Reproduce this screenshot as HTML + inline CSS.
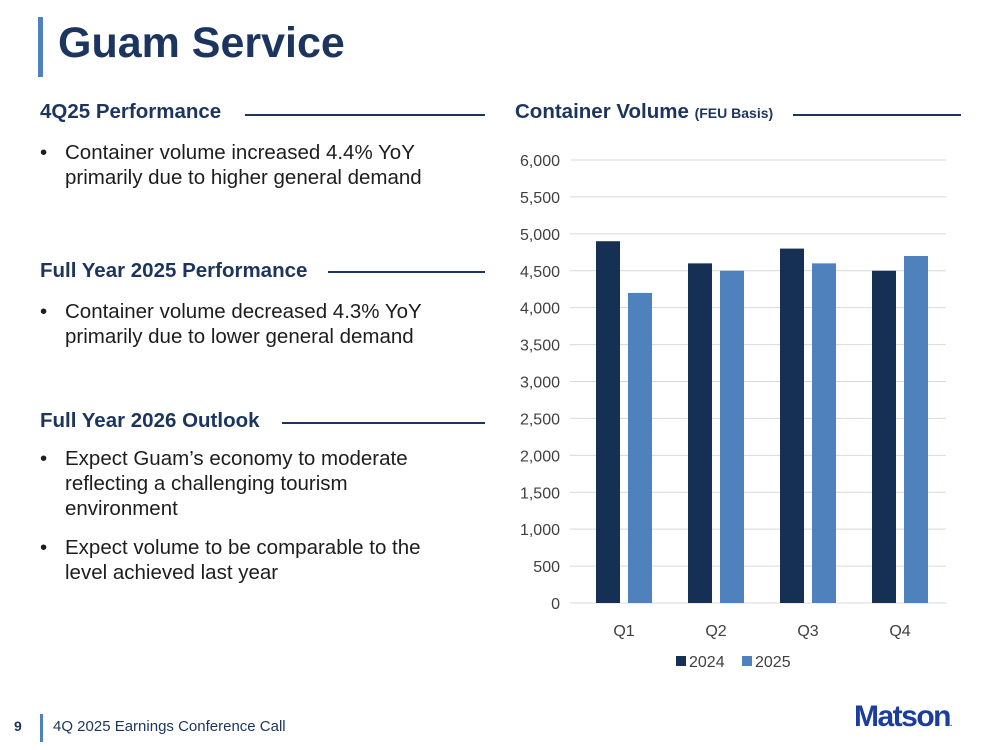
<!DOCTYPE html>
<html><head><meta charset="utf-8"><style>
body{margin:0;width:999px;height:750px;background:#fff;font-family:"Liberation Sans",sans-serif;position:relative;overflow:hidden;color:#1d1d1d}
.abs{position:absolute}
.h{color:#1c355e;font-weight:bold;font-size:20.5px}
.line{position:absolute;height:2px;background:#1c355e}
.b{font-size:20.5px;line-height:25px;position:absolute;left:40px;padding-left:25px;white-space:nowrap}
.b:before{content:"•";position:absolute;left:0}
</style></head><body>
<div class="abs" style="left:38px;top:17px;width:5px;height:60px;background:#4f81bd"></div>
<div class="abs" style="left:58px;top:19px;font-size:43px;font-weight:bold;color:#1c355e">Guam Service</div>

<div class="abs h" style="left:40px;top:100px">4Q25 Performance</div>
<div class="line" style="left:245px;top:114px;width:240px"></div>
<div class="b" style="top:140px">Container volume increased 4.4% YoY<br>primarily due to higher general demand</div>

<div class="abs h" style="left:40px;top:259px">Full Year 2025 Performance</div>
<div class="line" style="left:328px;top:271px;width:157px"></div>
<div class="b" style="top:299px">Container volume decreased 4.3% YoY<br>primarily due to lower general demand</div>

<div class="abs h" style="left:40px;top:409px">Full Year 2026 Outlook</div>
<div class="line" style="left:282px;top:422px;width:203px"></div>
<div class="b" style="top:446px">Expect Guam’s economy to moderate<br>reflecting a challenging tourism<br>environment</div>
<div class="b" style="top:535px">Expect volume to be comparable to the<br>level achieved last year</div>

<div class="abs h" style="left:515px;top:100px">Container Volume <span style="font-size:14px">(FEU Basis)</span></div>
<div class="line" style="left:793px;top:114px;width:168px"></div>

<svg class="abs" style="left:0;top:0" width="999" height="750" id="chart"></svg>

<div class="abs" style="left:14px;top:718px;font-size:14px;font-weight:bold;color:#1c355e">9</div>
<div class="abs" style="left:40px;top:714px;width:3px;height:28px;background:#4f81bd"></div>
<div class="abs" style="left:53px;top:718px;font-size:15px;color:#1c355e">4Q 2025 Earnings Conference Call</div>
<div class="abs" style="left:854px;top:700px;font-size:30px;font-weight:bold;color:#1a3d9e;letter-spacing:-1.5px">Matson<span style="font-size:8px">.</span></div>

<script>
const categories=["Q1","Q2","Q3","Q4"];
const series2024=[4900,4600,4800,4500];
const series2025=[4200,4500,4600,4700];
const yTicks=[0,500,1000,1500,2000,2500,3000,3500,4000,4500,5000,5500,6000];
const svg=document.getElementById('chart');
const NS="http://www.w3.org/2000/svg";
const y0=603,y1=160,xL=578,xR=946,yMax=6000,gL=570;
const y=v=>y0-(y0-y1)*v/yMax;
const cw=(xR-xL)/categories.length;
const x=i=>xL+cw*(i+0.5);
function mk(t,a){const e=document.createElementNS(NS,t);for(const k in a)e.setAttribute(k,a[k]);svg.appendChild(e);return e;}
yTicks.forEach(v=>{
 const l=mk('line',{x1:gL,x2:xR,y1:y(v),y2:y(v),stroke:'#d9d9d9','stroke-width':1});
 
 
 const t=mk('text',{x:560,y:y(v)+6,'text-anchor':'end','font-size':16,fill:'#404040','font-family':'Liberation Sans'});
 t.textContent=v.toLocaleString('en-US');
 
 
});
categories.forEach((c,i)=>{
 const bw=24,gap=8;
 const r1=mk('rect',{x:x(i)-gap/2-bw,y:y(series2024[i]),width:bw,height:y0-y(series2024[i]),fill:'#152f55'});
 
 
 const r2=mk('rect',{x:x(i)+gap/2,y:y(series2025[i]),width:bw,height:y0-y(series2025[i]),fill:'#4f81bd'});
 
 
 const t=mk('text',{x:x(i),y:636,'text-anchor':'middle','font-size':16,fill:'#404040','font-family':'Liberation Sans'});
 t.textContent=c;
 
 
});
[["2024","#152f55",676],["2025","#4f81bd",742]].forEach(([n,col,lx])=>{
 const r=mk('rect',{x:lx,y:656,width:10,height:10,fill:col});
 
 
 const t=mk('text',{x:lx+13,y:667,'font-size':16,fill:'#404040','font-family':'Liberation Sans'});
 t.textContent=n;
 
 
});
</script>
</body></html>
